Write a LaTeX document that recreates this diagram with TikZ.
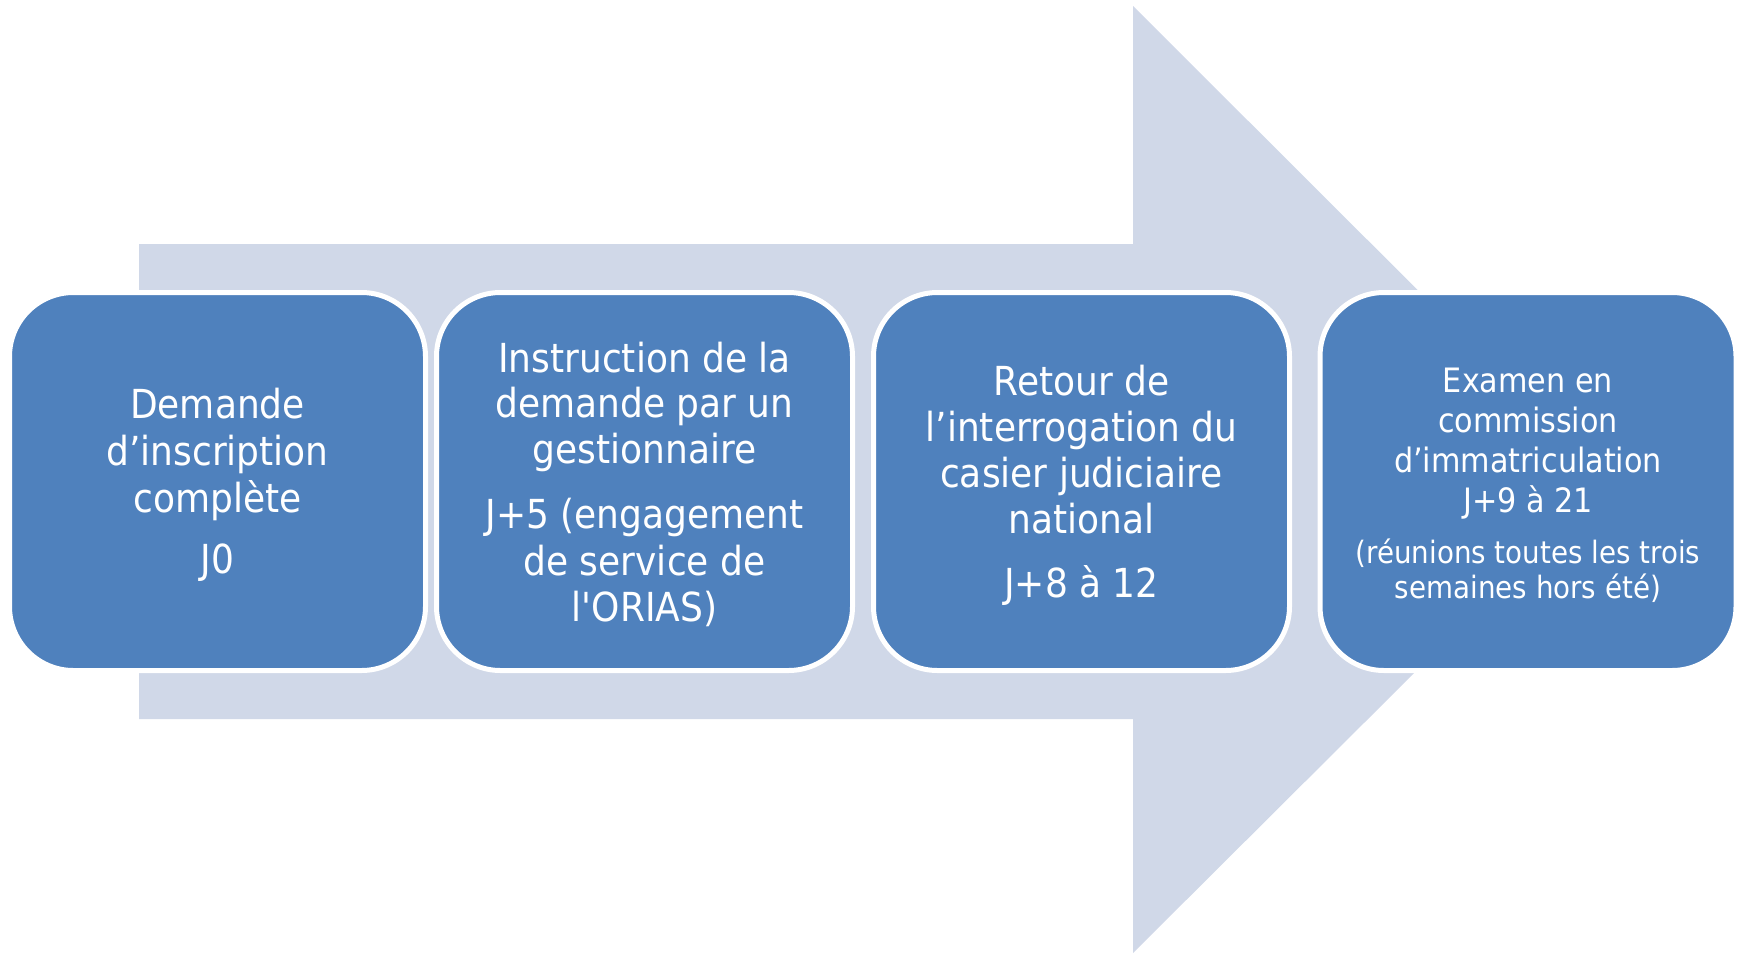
\documentclass[tikz,border=0pt]{standalone}
\usepackage{fontspec}
\setmainfont{DejaVu Sans}[FakeStretch=0.9, Ligatures=TeXOff]
\definecolor{boxblue}{HTML}{4F81BD}
\definecolor{arrowgrey}{HTML}{D0D8E8}
\begin{document}
\begin{tikzpicture}[x=0.5pt,y=-0.5pt,
  stepbox/.style={draw=white, line width=2.5pt, fill=boxblue, rounded corners=32pt,
    minimum width=208pt, minimum height=189pt, inner sep=0pt},
  bigtxt/.style={text=white, anchor=base, inner sep=0pt, font=\fontsize{20}{24}\selectfont},
  midtxt/.style={bigtxt, font=\fontsize{16.8}{20}\selectfont},
  smalltxt/.style={bigtxt, font=\fontsize{15.4}{18}\selectfont}]
\useasboundingbox (0,0) rectangle (1741,954);
\fill[arrowgrey] (139,244) -- (1133,244) -- (1133,6) -- (1608,480) -- (1133,953)
  -- (1133,719) -- (139,719) -- cycle;
\node[stepbox] (b1) at (217.5,481.5) {};
\node[stepbox] (b2) at (644.5,481.5) {};
\node[stepbox] (b3) at (1081.5,481.5) {};
\node[stepbox] (b4) at (1528,481.5) {};
% box 1
\node[bigtxt] (t11) at (217.5,418) {Demande};
\node[bigtxt] (t12) at (217.5,465) {d’inscription};
\node[bigtxt] (t13) at (217.5,512) {complète};
\node[bigtxt] (t14) at (217.5,573) {J0};
% box 2
\node[bigtxt] (t21) at (644.5,372) {Instruction de la};
\node[bigtxt] (t22) at (644.5,417) {demande par un};
\node[bigtxt] (t23) at (644.5,463) {gestionnaire};
\node[bigtxt] (t24) at (644.5,528) {J+5 (engagement};
\node[bigtxt] (t25) at (644.5,575) {de service de};
\node[bigtxt] (t26) at (644.5,621) {l'ORIAS)};
% box 3
\node[bigtxt] (t31) at (1081.5,395) {Retour de};
\node[bigtxt] (t32) at (1081.5,441) {l’interrogation du};
\node[bigtxt] (t33) at (1081.5,487) {casier judiciaire};
\node[bigtxt] (t34) at (1081.5,533) {national};
\node[bigtxt] (t35) at (1081.5,597) {J+8 à 12};
% box 4
\node[midtxt] (t41) at (1528,392) {Examen en};
\node[midtxt] (t42) at (1528,432) {commission};
\node[midtxt] (t43) at (1528,472) {d’immatriculation};
\node[midtxt] (t44) at (1528,512) {J+9 à 21};
\node[smalltxt] (t45) at (1528,563) {(réunions toutes les trois};
\node[smalltxt] (t46) at (1528,598) {semaines hors été)};
\end{tikzpicture}
\end{document}
